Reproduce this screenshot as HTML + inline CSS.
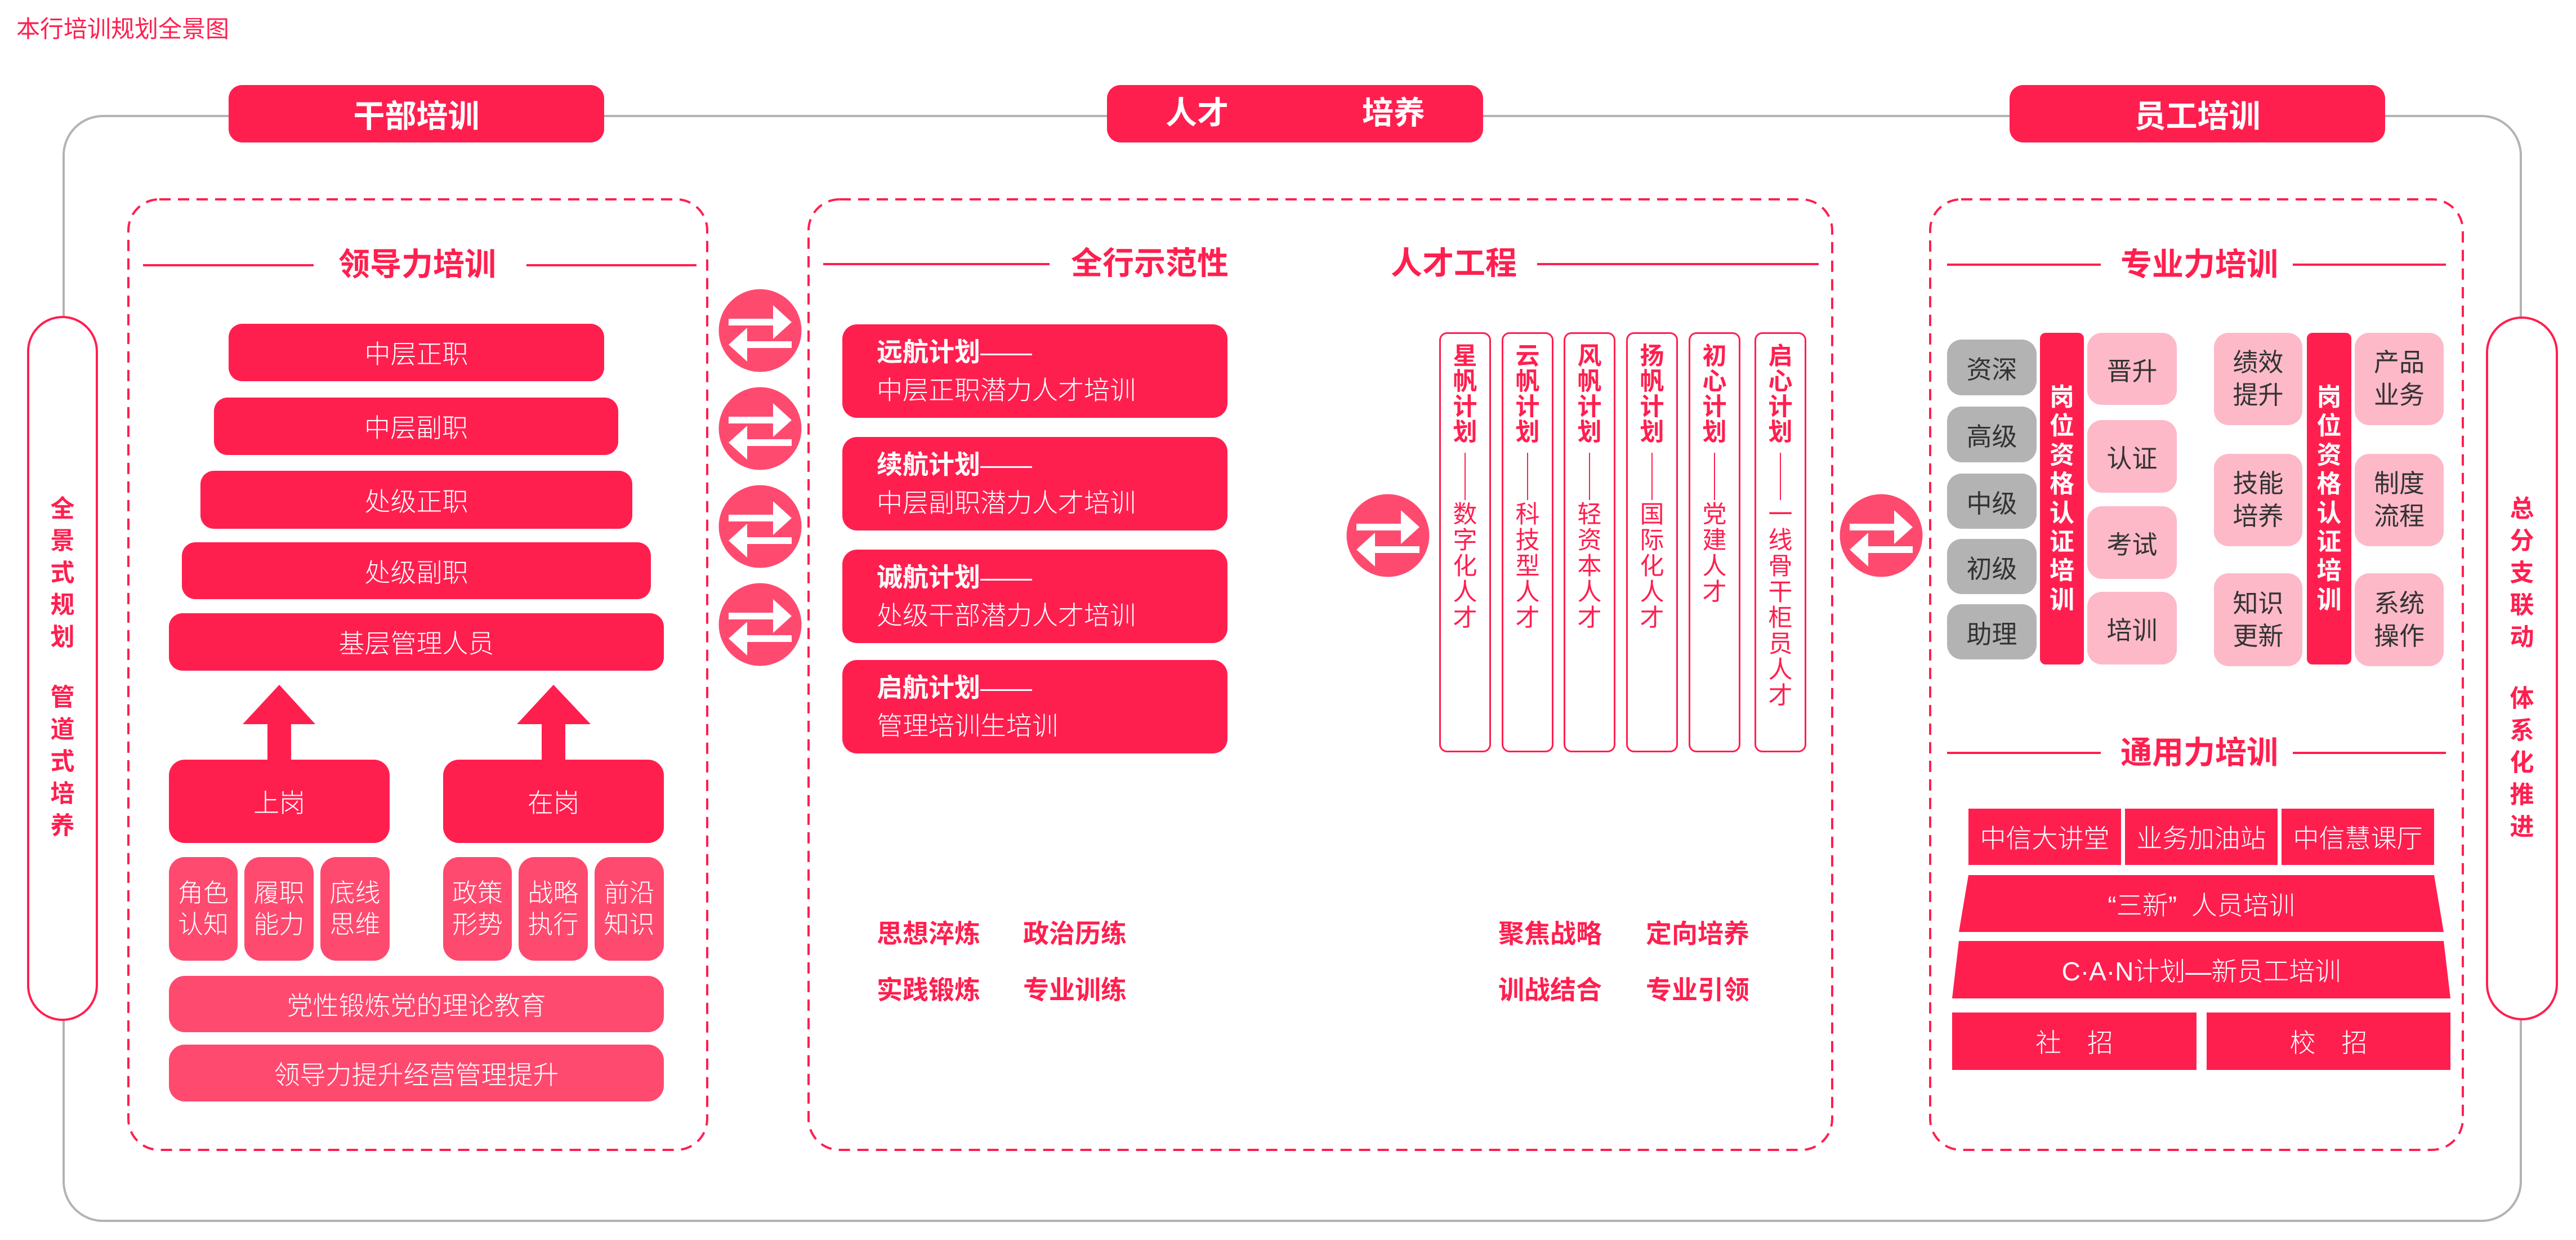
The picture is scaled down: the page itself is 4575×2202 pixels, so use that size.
<!DOCTYPE html>
<html><head><meta charset="utf-8">
<style>
body{margin:0;width:4575px;height:2202px;position:relative;background:#fff;overflow:hidden;font-family:"Liberation Sans","Noto Sans CJK SC",sans-serif;}
b{font-weight:700;}
.b{position:absolute;display:flex;align-items:center;justify-content:center;text-align:center;color:#fff;box-sizing:border-box;font-weight:300;}
.r{background:#ff1f4f;}
.p{background:#ff4a70;}
.lp{background:#fdb9c8;color:#333;}
.g{background:#b3b3b3;color:#333;}
.hdr{font-size:56px;font-weight:700;border-radius:24px;}
.t{position:absolute;white-space:nowrap;}
.sec{position:absolute;font-size:56px;font-weight:700;color:#ff1f4f;white-space:nowrap;line-height:60px;}
.vt{position:absolute;width:92px;text-align:center;color:#ff1f4f;font-size:43px;}
.pill{position:absolute;border:4px solid #ff1f4f;border-radius:64px;background:#fff;box-sizing:border-box;}
.pt{position:absolute;text-align:center;color:#ff1f4f;font-size:43px;font-weight:700;line-height:57px;}
.bw{position:absolute;font-size:46px;font-weight:700;color:#ff1f4f;line-height:60px;white-space:nowrap;}
</style></head><body>

<svg width="4575" height="2202" style="position:absolute;left:0;top:0" xmlns="http://www.w3.org/2000/svg">
  <rect x="113" y="206" width="4364" height="1962" rx="70" fill="none" stroke="#b3b3b3" stroke-width="4"/>
  <g fill="none" stroke="#ff1f4f" stroke-width="4" stroke-dasharray="20 13">
    <rect x="228" y="354" width="1028" height="1688" rx="55"/>
    <rect x="1436" y="354" width="1818" height="1688" rx="55"/>
    <rect x="3428" y="354" width="946" height="1688" rx="55"/>
  </g>
  <g stroke="#ff1f4f" stroke-width="4">
    <line x1="254" y1="471" x2="557" y2="471"/>
    <line x1="935" y1="471" x2="1237" y2="471"/>
    <line x1="1462" y1="469" x2="1864" y2="469"/>
    <line x1="2730" y1="469" x2="3230" y2="469"/>
    <line x1="3458" y1="470" x2="3731" y2="470"/>
    <line x1="4072" y1="470" x2="4344" y2="470"/>
    <line x1="3458" y1="1337" x2="3731" y2="1337"/>
    <line x1="4072" y1="1337" x2="4344" y2="1337"/>
  </g>
  <g stroke="#ff1f4f" stroke-width="2">
    <line x1="2602" y1="804" x2="2602" y2="888"/>
    <line x1="2713" y1="804" x2="2713" y2="888"/>
    <line x1="2823" y1="804" x2="2823" y2="888"/>
    <line x1="2934" y1="804" x2="2934" y2="888"/>
    <line x1="3045" y1="804" x2="3045" y2="888"/>
    <line x1="3162" y1="804" x2="3162" y2="888"/>
  </g>
  <polygon fill="#ff1f4f" points="496,1216 560,1286 517,1286 517,1349 475,1349 475,1286 431,1286"/>
  <polygon fill="#ff1f4f" points="983,1216 1049,1286 1004,1286 1004,1349 962,1349 962,1286 918,1286"/>
  <polygon fill="#ff1f4f" points="3496,1554 4323,1554 4340,1655 3479,1655"/>
  <polygon fill="#ff1f4f" points="3479,1671 4340,1671 4352,1773 3467,1773"/>
  <g>
    <g transform="translate(1350,587)"><circle r="73.5" fill="#ff4a70"/><path fill="#fff" d="M-56,-21 H23 V-45 L56,-15 L23,15 V-9 H-56 Z"/><path fill="#fff" d="M56,19 H-23 V-5 L-56,25 L-23,55 V31 H56 Z"/></g>
    <g transform="translate(1350,761)"><circle r="73.5" fill="#ff4a70"/><path fill="#fff" d="M-56,-21 H23 V-45 L56,-15 L23,15 V-9 H-56 Z"/><path fill="#fff" d="M56,19 H-23 V-5 L-56,25 L-23,55 V31 H56 Z"/></g>
    <g transform="translate(1350,935)"><circle r="73.5" fill="#ff4a70"/><path fill="#fff" d="M-56,-21 H23 V-45 L56,-15 L23,15 V-9 H-56 Z"/><path fill="#fff" d="M56,19 H-23 V-5 L-56,25 L-23,55 V31 H56 Z"/></g>
    <g transform="translate(1350,1109)"><circle r="73.5" fill="#ff4a70"/><path fill="#fff" d="M-56,-21 H23 V-45 L56,-15 L23,15 V-9 H-56 Z"/><path fill="#fff" d="M56,19 H-23 V-5 L-56,25 L-23,55 V31 H56 Z"/></g>
    <g transform="translate(2465,951)"><circle r="73.5" fill="#ff4a70"/><path fill="#fff" d="M-56,-21 H23 V-45 L56,-15 L23,15 V-9 H-56 Z"/><path fill="#fff" d="M56,19 H-23 V-5 L-56,25 L-23,55 V31 H56 Z"/></g>
    <g transform="translate(3341,951)"><circle r="73.5" fill="#ff4a70"/><path fill="#fff" d="M-56,-21 H23 V-45 L56,-15 L23,15 V-9 H-56 Z"/><path fill="#fff" d="M56,19 H-23 V-5 L-56,25 L-23,55 V31 H56 Z"/></g>
  </g>
</svg>

<!-- title -->
<div class="t" style="left:29px;top:26px;font-size:42px;line-height:52px;color:#ff1f4f;">本行培训规划全景图</div>

<!-- header boxes -->
<div class="b r hdr" style="left:406px;top:151px;width:667px;height:102px;">干部培训</div>
<div class="b r hdr" style="left:1966px;top:151px;width:668px;height:102px;"></div>
<div class="t" style="left:2070px;top:171px;font-size:56px;line-height:60px;font-weight:700;color:#fff;">人才</div>
<div class="t" style="left:2419px;top:171px;font-size:56px;line-height:60px;font-weight:700;color:#fff;">培养</div>
<div class="b r hdr" style="left:3569px;top:151px;width:667px;height:102px;">员工培训</div>

<!-- pills -->
<div class="pill" style="left:48px;top:561px;width:126px;height:1252px;"></div>
<div class="pt" style="left:48px;width:126px;top:876px;">全<br>景<br>式<br>规<br>划</div>
<div class="pt" style="left:48px;width:126px;top:1211px;">管<br>道<br>式<br>培<br>养</div>
<div class="pill" style="left:4415px;top:562px;width:128px;height:1250px;"></div>
<div class="pt" style="left:4415px;width:128px;top:876px;">总<br>分<br>支<br>联<br>动</div>
<div class="pt" style="left:4415px;width:128px;top:1213px;">体<br>系<br>化<br>推<br>进</div>

<!-- left section -->
<div class="sec" style="left:601px;top:440px;">领导力培训</div>
<div class="b r" style="left:406px;top:575px;width:667px;height:102px;border-radius:24px;font-size:46px;">中层正职</div>
<div class="b r" style="left:380px;top:706px;width:718px;height:102px;border-radius:24px;font-size:46px;">中层副职</div>
<div class="b r" style="left:356px;top:836px;width:767px;height:103px;border-radius:24px;font-size:46px;">处级正职</div>
<div class="b r" style="left:323px;top:963px;width:833px;height:101px;border-radius:24px;font-size:46px;">处级副职</div>
<div class="b r" style="left:300px;top:1089px;width:879px;height:102px;border-radius:24px;font-size:46px;">基层管理人员</div>
<div class="b r" style="left:300px;top:1349px;width:392px;height:148px;border-radius:28px;font-size:46px;">上岗</div>
<div class="b r" style="left:787px;top:1349px;width:392px;height:148px;border-radius:28px;font-size:46px;">在岗</div>
<div class="b p" style="left:300px;top:1522px;width:122px;height:184px;border-radius:28px;font-size:45px;line-height:56px;">角色<br>认知</div>
<div class="b p" style="left:434px;top:1522px;width:123px;height:184px;border-radius:28px;font-size:45px;line-height:56px;">履职<br>能力</div>
<div class="b p" style="left:569px;top:1522px;width:123px;height:184px;border-radius:28px;font-size:45px;line-height:56px;">底线<br>思维</div>
<div class="b p" style="left:787px;top:1522px;width:122px;height:184px;border-radius:28px;font-size:45px;line-height:56px;">政策<br>形势</div>
<div class="b p" style="left:921px;top:1522px;width:123px;height:184px;border-radius:28px;font-size:45px;line-height:56px;">战略<br>执行</div>
<div class="b p" style="left:1056px;top:1522px;width:123px;height:184px;border-radius:28px;font-size:45px;line-height:56px;">前沿<br>知识</div>
<div class="b p" style="left:300px;top:1733px;width:879px;height:100px;border-radius:28px;font-size:46px;">党性锻炼党的理论教育</div>
<div class="b p" style="left:300px;top:1855px;width:879px;height:101px;border-radius:28px;font-size:46px;">领导力提升经营管理提升</div>

<!-- middle section -->
<div class="sec" style="left:1902px;top:438px;">全行示范性</div>
<div class="sec" style="left:2470px;top:438px;">人才工程</div>

<div class="b r" style="left:1496px;top:576px;width:684px;height:166px;border-radius:26px;justify-content:flex-start;padding-left:61px;text-align:left;font-size:46px;line-height:68px;"><div><b>远航计划</b>——<br>中层正职潜力人才培训</div></div>
<div class="b r" style="left:1496px;top:776px;width:684px;height:166px;border-radius:26px;justify-content:flex-start;padding-left:61px;text-align:left;font-size:46px;line-height:68px;"><div><b>续航计划</b>——<br>中层副职潜力人才培训</div></div>
<div class="b r" style="left:1496px;top:976px;width:684px;height:166px;border-radius:26px;justify-content:flex-start;padding-left:61px;text-align:left;font-size:46px;line-height:68px;"><div><b>诚航计划</b>——<br>处级干部潜力人才培训</div></div>
<div class="b r" style="left:1496px;top:1172px;width:684px;height:166px;border-radius:26px;justify-content:flex-start;padding-left:61px;text-align:left;font-size:46px;line-height:68px;"><div><b>启航计划</b>——<br>管理培训生培训</div></div>

<div class="bw" style="left:1557px;top:1628px;">思想淬炼</div>
<div class="bw" style="left:1817px;top:1628px;">政治历练</div>
<div class="bw" style="left:1557px;top:1728px;">实践锻炼</div>
<div class="bw" style="left:1817px;top:1728px;">专业训练</div>
<div class="bw" style="left:2661px;top:1628px;">聚焦战略</div>
<div class="bw" style="left:2923px;top:1628px;">定向培养</div>
<div class="bw" style="left:2661px;top:1728px;">训战结合</div>
<div class="bw" style="left:2923px;top:1728px;">专业引领</div>

<!-- vertical plan boxes -->
<div class="b" style="left:2556px;top:590px;width:92px;height:746px;border:3px solid #ff1f4f;border-radius:14px;"></div>
<div class="b" style="left:2667px;top:590px;width:92px;height:746px;border:3px solid #ff1f4f;border-radius:14px;"></div>
<div class="b" style="left:2777px;top:590px;width:92px;height:746px;border:3px solid #ff1f4f;border-radius:14px;"></div>
<div class="b" style="left:2888px;top:590px;width:92px;height:746px;border:3px solid #ff1f4f;border-radius:14px;"></div>
<div class="b" style="left:2999px;top:590px;width:92px;height:746px;border:3px solid #ff1f4f;border-radius:14px;"></div>
<div class="b" style="left:3116px;top:590px;width:92px;height:746px;border:3px solid #ff1f4f;border-radius:14px;"></div>

<div class="vt" style="left:2556px;top:611px;font-weight:700;line-height:45px;">星<br>帆<br>计<br>划</div>
<div class="vt" style="left:2667px;top:611px;font-weight:700;line-height:45px;">云<br>帆<br>计<br>划</div>
<div class="vt" style="left:2777px;top:611px;font-weight:700;line-height:45px;">风<br>帆<br>计<br>划</div>
<div class="vt" style="left:2888px;top:611px;font-weight:700;line-height:45px;">扬<br>帆<br>计<br>划</div>
<div class="vt" style="left:2999px;top:611px;font-weight:700;line-height:45px;">初<br>心<br>计<br>划</div>
<div class="vt" style="left:3116px;top:611px;font-weight:700;line-height:45px;">启<br>心<br>计<br>划</div>

<div class="vt" style="left:2556px;top:891px;line-height:46px;">数<br>字<br>化<br>人<br>才</div>
<div class="vt" style="left:2667px;top:891px;line-height:46px;">科<br>技<br>型<br>人<br>才</div>
<div class="vt" style="left:2777px;top:891px;line-height:46px;">轻<br>资<br>本<br>人<br>才</div>
<div class="vt" style="left:2888px;top:891px;line-height:46px;">国<br>际<br>化<br>人<br>才</div>
<div class="vt" style="left:2999px;top:891px;line-height:46px;">党<br>建<br>人<br>才</div>
<div class="vt" style="left:3116px;top:891px;line-height:46px;">一<br>线<br>骨<br>干<br>柜<br>员<br>人<br>才</div>

<!-- right section -->
<div class="sec" style="left:3766px;top:440px;">专业力培训</div>
<div class="sec" style="left:3766px;top:1307px;">通用力培训</div>

<div class="b g" style="left:3458px;top:603px;width:159px;height:99px;border-radius:26px;font-size:45px;font-weight:400;">资深</div>
<div class="b g" style="left:3458px;top:722px;width:159px;height:99px;border-radius:26px;font-size:45px;font-weight:400;">高级</div>
<div class="b g" style="left:3458px;top:841px;width:159px;height:98px;border-radius:26px;font-size:45px;font-weight:400;">中级</div>
<div class="b g" style="left:3458px;top:957px;width:159px;height:98px;border-radius:26px;font-size:45px;font-weight:400;">初级</div>
<div class="b g" style="left:3458px;top:1073px;width:159px;height:98px;border-radius:26px;font-size:45px;font-weight:400;">助理</div>

<div class="b r" style="left:3623px;top:591px;width:78px;height:589px;border-radius:10px;font-size:44px;font-weight:700;line-height:51.4px;">岗<br>位<br>资<br>格<br>认<br>证<br>培<br>训</div>
<div class="b r" style="left:4097px;top:591px;width:79px;height:589px;border-radius:10px;font-size:44px;font-weight:700;line-height:51.4px;">岗<br>位<br>资<br>格<br>认<br>证<br>培<br>训</div>

<div class="b lp" style="left:3707px;top:591px;width:159px;height:128px;border-radius:26px;font-size:45px;font-weight:400;">晋升</div>
<div class="b lp" style="left:3707px;top:746px;width:159px;height:129px;border-radius:26px;font-size:45px;font-weight:400;">认证</div>
<div class="b lp" style="left:3707px;top:899px;width:159px;height:129px;border-radius:26px;font-size:45px;font-weight:400;">考试</div>
<div class="b lp" style="left:3707px;top:1051px;width:159px;height:129px;border-radius:26px;font-size:45px;font-weight:400;">培训</div>

<div class="b lp" style="left:3932px;top:591px;width:157px;height:164px;border-radius:26px;font-size:45px;line-height:58px;font-weight:400;">绩效<br>提升</div>
<div class="b lp" style="left:3932px;top:806px;width:157px;height:164px;border-radius:26px;font-size:45px;line-height:58px;font-weight:400;">技能<br>培养</div>
<div class="b lp" style="left:3932px;top:1018px;width:157px;height:165px;border-radius:26px;font-size:45px;line-height:58px;font-weight:400;">知识<br>更新</div>
<div class="b lp" style="left:4182px;top:591px;width:158px;height:164px;border-radius:26px;font-size:45px;line-height:58px;font-weight:400;">产品<br>业务</div>
<div class="b lp" style="left:4182px;top:806px;width:158px;height:164px;border-radius:26px;font-size:45px;line-height:58px;font-weight:400;">制度<br>流程</div>
<div class="b lp" style="left:4182px;top:1018px;width:158px;height:165px;border-radius:26px;font-size:45px;line-height:58px;font-weight:400;">系统<br>操作</div>

<div class="b r" style="left:3496px;top:1436px;width:271px;height:100px;font-size:46px;">中信大讲堂</div>
<div class="b r" style="left:3774px;top:1436px;width:271px;height:100px;font-size:46px;">业务加油站</div>
<div class="b r" style="left:4052px;top:1436px;width:271px;height:100px;font-size:46px;">中信慧课厅</div>
<div class="b" style="left:3467px;top:1554px;width:885px;height:101px;font-size:46px;white-space:pre;">“三新”&nbsp;&nbsp;人员培训</div>
<div class="b" style="left:3467px;top:1671px;width:885px;height:102px;font-size:46px;">C·A·N计划—新员工培训</div>
<div class="b r" style="left:3467px;top:1798px;width:434px;height:102px;font-size:46px;">社　招</div>
<div class="b r" style="left:3919px;top:1798px;width:433px;height:102px;font-size:46px;">校　招</div>

</body></html>
